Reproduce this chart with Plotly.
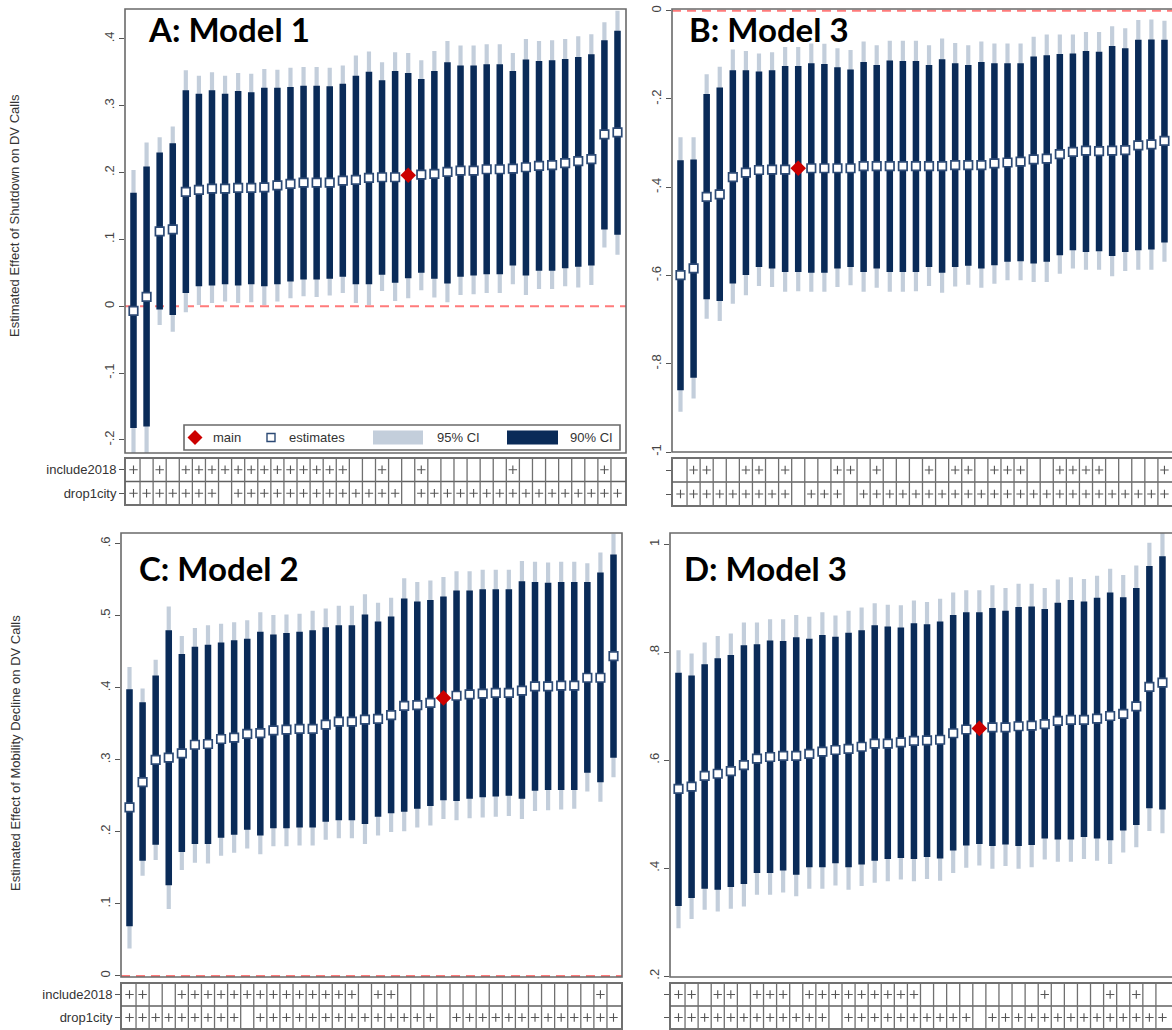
import plotly.graph_objects as go

# the page body margin is removed (post_script below), so the figure fills the window exactly
OFF = 0
W, H = 1172 - OFF, 1030 - OFF
N = 38
idx = list(range(1, N + 1))

# ---------------- DATA ----------------
# Panel A: Model 1 (Shutdown)
A_est = [-0.007, 0.014, 0.112, 0.115, 0.171, 0.174, 0.176, 0.176, 0.177, 0.177, 0.178, 0.181, 0.183, 0.185, 0.185, 0.185, 0.188, 0.189, 0.192, 0.193,
         0.193, 0.196, 0.197, 0.198, 0.201, 0.203, 0.203, 0.205, 0.205, 0.206, 0.208, 0.210, 0.211, 0.214, 0.217, 0.220, 0.257, 0.260]
A_hi95 = [0.204, 0.245, 0.253, 0.269, 0.353, 0.345, 0.350, 0.345, 0.349, 0.348, 0.355, 0.354, 0.357, 0.358, 0.358, 0.357, 0.360, 0.375, 0.381, 0.365,
          0.380, 0.379, 0.368, 0.382, 0.397, 0.390, 0.390, 0.392, 0.392, 0.379, 0.400, 0.397, 0.398, 0.400, 0.404, 0.407, 0.425, 0.442]
A_hi90 = [0.170, 0.209, 0.230, 0.244, 0.323, 0.318, 0.323, 0.318, 0.322, 0.320, 0.327, 0.327, 0.328, 0.330, 0.330, 0.329, 0.333, 0.345, 0.351, 0.338,
          0.352, 0.349, 0.340, 0.352, 0.365, 0.360, 0.360, 0.362, 0.362, 0.352, 0.369, 0.367, 0.368, 0.370, 0.373, 0.377, 0.398, 0.412]
A_lo90 = [-0.182, -0.180, -0.005, -0.013, 0.020, 0.030, 0.031, 0.033, 0.031, 0.033, 0.030, 0.033, 0.037, 0.040, 0.040, 0.041, 0.044, 0.033, 0.033, 0.047,
          0.035, 0.042, 0.050, 0.041, 0.034, 0.044, 0.046, 0.048, 0.048, 0.061, 0.046, 0.053, 0.053, 0.057, 0.059, 0.061, 0.115, 0.107]
A_lo95 = [-0.235, -0.235, -0.028, -0.038, -0.009, 0.002, 0.005, 0.007, 0.005, 0.006, 0.002, 0.007, 0.012, 0.015, 0.014, 0.016, 0.020, 0.005, 0.002, 0.023,
          0.008, 0.012, 0.024, 0.013, 0.006, 0.017, 0.018, 0.020, 0.020, 0.033, 0.017, 0.026, 0.026, 0.030, 0.028, 0.032, 0.088, 0.077]
A_main = 22
A_inc2018 = [1,0,1,0,1,1,1,1,1,1,1,1,1,1,1,1,1,0,0,1,0,0,1,0,0,0,0,0,0,1,0,0,0,0,0,0,1,0]
A_drop1city = [1,1,1,1,1,1,1,0,1,1,1,1,1,1,1,1,1,1,1,1,1,0,1,1,1,1,1,1,1,1,1,1,1,1,1,1,1,1]

# Panel B: Model 3 (Shutdown)
B_est = [-0.599, -0.584, -0.422, -0.416, -0.377, -0.367, -0.361, -0.360, -0.360, -0.357, -0.357, -0.357, -0.357, -0.357, -0.352, -0.352, -0.352, -0.352, -0.352, -0.352,
         -0.352, -0.350, -0.350, -0.350, -0.346, -0.344, -0.342, -0.337, -0.335, -0.325, -0.320, -0.317, -0.318, -0.317, -0.316, -0.305, -0.303, -0.295]
B_hi95 = [-0.287, -0.287, -0.144, -0.127, -0.088, -0.091, -0.097, -0.094, -0.082, -0.082, -0.074, -0.075, -0.085, -0.089, -0.070, -0.078, -0.068, -0.068, -0.068, -0.078,
          -0.063, -0.073, -0.078, -0.070, -0.074, -0.074, -0.074, -0.059, -0.054, -0.054, -0.054, -0.048, -0.048, -0.035, -0.040, -0.021, -0.020, -0.023]
B_hi90 = [-0.339, -0.337, -0.189, -0.174, -0.135, -0.135, -0.138, -0.135, -0.125, -0.125, -0.119, -0.121, -0.128, -0.133, -0.116, -0.123, -0.113, -0.114, -0.114, -0.123,
          -0.110, -0.119, -0.123, -0.116, -0.119, -0.119, -0.119, -0.104, -0.101, -0.098, -0.097, -0.091, -0.093, -0.080, -0.085, -0.066, -0.065, -0.066]
B_lo90 = [-0.860, -0.832, -0.654, -0.658, -0.618, -0.599, -0.581, -0.584, -0.592, -0.592, -0.594, -0.594, -0.584, -0.581, -0.592, -0.584, -0.592, -0.592, -0.592, -0.581,
          -0.594, -0.581, -0.578, -0.584, -0.577, -0.569, -0.568, -0.573, -0.569, -0.554, -0.543, -0.547, -0.545, -0.556, -0.547, -0.543, -0.541, -0.525]
B_lo95 = [-0.909, -0.879, -0.698, -0.703, -0.664, -0.645, -0.624, -0.626, -0.637, -0.636, -0.637, -0.637, -0.626, -0.622, -0.637, -0.628, -0.637, -0.637, -0.636, -0.624,
          -0.639, -0.625, -0.621, -0.628, -0.619, -0.611, -0.611, -0.615, -0.615, -0.596, -0.584, -0.587, -0.587, -0.602, -0.590, -0.587, -0.587, -0.569]
B_main = 10
B_inc2018 = [0,1,1,0,0,1,1,0,1,0,0,0,1,1,0,1,0,0,0,1,0,1,1,0,1,1,1,0,0,1,1,1,1,0,0,0,0,1]
B_drop1city = [1,1,1,1,1,1,1,1,1,0,1,1,1,0,1,1,1,1,1,1,1,1,1,1,1,1,1,1,1,1,1,1,1,1,1,1,1,1]

# Panel C: Model 2 (Mobility decline)
C_est = [0.234, 0.269, 0.300, 0.303, 0.309, 0.321, 0.322, 0.329, 0.331, 0.336, 0.337, 0.341, 0.342, 0.343, 0.343, 0.349, 0.353, 0.353, 0.356, 0.357,
         0.362, 0.375, 0.376, 0.379, 0.386, 0.389, 0.391, 0.392, 0.393, 0.393, 0.396, 0.402, 0.402, 0.403, 0.403, 0.414, 0.414, 0.444]
C_hi95 = [0.429, 0.399, 0.439, 0.513, 0.472, 0.483, 0.487, 0.489, 0.491, 0.494, 0.505, 0.501, 0.502, 0.503, 0.507, 0.510, 0.514, 0.514, 0.530, 0.518,
          0.525, 0.552, 0.547, 0.549, 0.554, 0.562, 0.562, 0.564, 0.564, 0.564, 0.576, 0.575, 0.574, 0.575, 0.575, 0.573, 0.588, 0.614]
C_hi90 = [0.398, 0.380, 0.417, 0.480, 0.447, 0.457, 0.460, 0.463, 0.466, 0.468, 0.478, 0.474, 0.476, 0.478, 0.480, 0.484, 0.487, 0.487, 0.502, 0.492,
          0.499, 0.524, 0.520, 0.522, 0.527, 0.535, 0.535, 0.537, 0.537, 0.537, 0.548, 0.547, 0.546, 0.547, 0.547, 0.547, 0.560, 0.585]
C_lo90 = [0.069, 0.160, 0.182, 0.126, 0.172, 0.183, 0.183, 0.192, 0.196, 0.203, 0.195, 0.205, 0.205, 0.206, 0.206, 0.214, 0.216, 0.216, 0.211, 0.221,
          0.226, 0.228, 0.232, 0.236, 0.244, 0.243, 0.246, 0.248, 0.249, 0.250, 0.246, 0.257, 0.258, 0.258, 0.258, 0.282, 0.269, 0.303]
C_lo95 = [0.038, 0.139, 0.161, 0.093, 0.147, 0.157, 0.156, 0.167, 0.171, 0.177, 0.169, 0.180, 0.180, 0.181, 0.181, 0.189, 0.191, 0.191, 0.183, 0.195,
          0.200, 0.201, 0.206, 0.209, 0.218, 0.216, 0.219, 0.220, 0.221, 0.222, 0.218, 0.229, 0.230, 0.231, 0.232, 0.256, 0.242, 0.276]
C_main = 25
C_inc2018 = [1,1,0,0,1,1,1,1,1,1,1,1,1,1,1,1,1,1,0,1,1,0,0,0,0,0,0,0,0,0,0,0,0,0,0,0,1,0]
C_drop1city = [1,1,1,1,1,1,1,1,1,0,1,1,1,1,1,1,1,1,1,1,1,1,1,1,0,1,1,1,1,1,1,1,1,1,1,1,1,1]

# Panel D: Model 3 (Mobility decline)
D_est = [0.547, 0.551, 0.571, 0.575, 0.580, 0.591, 0.603, 0.606, 0.608, 0.608, 0.612, 0.616, 0.619, 0.621, 0.625, 0.631, 0.631, 0.633, 0.636, 0.637,
         0.638, 0.650, 0.657, 0.659, 0.661, 0.661, 0.663, 0.664, 0.667, 0.673, 0.675, 0.675, 0.677, 0.682, 0.686, 0.700, 0.736, 0.744]
D_hi95 = [0.804, 0.798, 0.818, 0.830, 0.835, 0.855, 0.855, 0.861, 0.861, 0.869, 0.866, 0.874, 0.868, 0.877, 0.883, 0.891, 0.888, 0.887, 0.896, 0.893,
          0.899, 0.911, 0.915, 0.915, 0.924, 0.919, 0.927, 0.927, 0.919, 0.935, 0.939, 0.936, 0.942, 0.955, 0.943, 0.961, 1.003, 1.022]
D_hi90 = [0.762, 0.757, 0.778, 0.789, 0.795, 0.813, 0.815, 0.822, 0.821, 0.828, 0.825, 0.832, 0.829, 0.836, 0.841, 0.850, 0.848, 0.846, 0.854, 0.852,
          0.857, 0.869, 0.874, 0.874, 0.882, 0.877, 0.884, 0.885, 0.880, 0.892, 0.897, 0.894, 0.901, 0.911, 0.902, 0.919, 0.960, 0.978]
D_lo90 = [0.330, 0.345, 0.362, 0.360, 0.365, 0.371, 0.391, 0.391, 0.396, 0.388, 0.402, 0.402, 0.409, 0.402, 0.407, 0.414, 0.417, 0.419, 0.417, 0.421,
          0.418, 0.433, 0.442, 0.445, 0.441, 0.444, 0.441, 0.443, 0.455, 0.453, 0.453, 0.458, 0.455, 0.452, 0.470, 0.480, 0.511, 0.509]
D_lo95 = [0.289, 0.306, 0.323, 0.320, 0.325, 0.329, 0.351, 0.351, 0.355, 0.348, 0.362, 0.362, 0.368, 0.360, 0.367, 0.373, 0.376, 0.379, 0.376, 0.380,
          0.377, 0.391, 0.401, 0.405, 0.399, 0.404, 0.399, 0.402, 0.416, 0.412, 0.412, 0.417, 0.414, 0.408, 0.429, 0.439, 0.469, 0.465]
D_main = 24
D_inc2018 = [1,1,0,1,1,0,1,1,1,0,1,1,1,1,1,1,1,1,1,0,0,0,0,0,0,0,0,0,1,0,0,0,0,1,0,1,0,0]
D_drop1city = [1,1,1,1,1,1,1,1,1,1,1,1,0,1,1,1,1,1,1,1,1,1,1,0,1,1,1,1,1,1,1,1,1,1,1,1,1,1]

A_yticks = [-0.2, -0.1, 0, 0.1, 0.2, 0.3, 0.4]
A_ytext = ['-.2', '-.1', '0', '.1', '.2', '.3', '.4']
B_yticks = [-1, -0.8, -0.6, -0.4, -0.2, 0]
B_ytext = ['-1', '-.8', '-.6', '-.4', '-.2', '0']
C_yticks = [0, 0.1, 0.2, 0.3, 0.4, 0.5, 0.6]
C_ytext = ['0', '.1', '.2', '.3', '.4', '.5', '.6']
D_yticks = [0.2, 0.4, 0.6, 0.8, 1.0]
D_ytext = ['.2', '.4', '.6', '.8', '1']

row_labels = ['include2018', 'drop1city']
legend_labels = ['main', 'estimates', '95% CI', '90% CI']
ytitle_top = 'Estimated Effect of Shutdown on DV Calls'
ytitle_bottom = 'Estimated Effect of Mobility Decline on DV Calls'

# ---------------- STYLE / LAYOUT ----------------
NAVY = '#0a2b58'
LIGHT = '#c3cedb'
RED = '#cc0000'
ZERO = '#ff7b7b'
FRAME = '#6a6a6a'
FONT = 'Liberation Sans, Arial, sans-serif'

def fx(p):
    return (p - OFF) / W

def fy(p):
    return 1 - (p - OFF) / H

panels = [
    dict(est=A_est, lo95=A_lo95, hi95=A_hi95, lo90=A_lo90, hi90=A_hi90, main=A_main,
         inc=A_inc2018, drop=A_drop1city, yt=A_yticks, ytt=A_ytext, title='A: Model 1',
         box=(125, 626, 9, 453), tbox=(458, 505), xr=(0.35, 38.65), yr=(-0.2195, 0.4447),
         tpos=(146, 29), zero=True, labels=True, rightframe=True),
    dict(est=B_est, lo95=B_lo95, hi95=B_hi95, lo90=B_lo90, hi90=B_hi90, main=B_main,
         inc=B_inc2018, drop=B_drop1city, yt=B_yticks, ytt=B_ytext, title='B: Model 3',
         box=(672, 1172, 9, 452), tbox=(458, 506), xr=(0.35, 0.35 + 500 / 13.08), yr=(-1.0, 0.0039),
         tpos=(687, 29), zero=True, labels=False, rightframe=False),
    dict(est=C_est, lo95=C_lo95, hi95=C_hi95, lo90=C_lo90, hi90=C_hi90, main=C_main,
         inc=C_inc2018, drop=C_drop1city, yt=C_yticks, ytt=C_ytext, title='C: Model 2',
         box=(121, 622, 533, 977), tbox=(983, 1029), xr=(0.35, 38.65), yr=(-0.0015, 0.615),
         tpos=(137, 568), zero=True, labels=True, rightframe=True),
    dict(est=D_est, lo95=D_lo95, hi95=D_hi95, lo90=D_lo90, hi90=D_hi90, main=D_main,
         inc=D_inc2018, drop=D_drop1city, yt=D_yticks, ytt=D_ytext, title='D: Model 3',
         box=(670, 1172, 533, 977), tbox=(983, 1029), xr=(0.35, 0.35 + 502 / 13.08), yr=(0.1985, 1.021),
         tpos=(682, 568), zero=False, labels=False, rightframe=False),
]

fig = go.Figure()
layout = dict(width=W, height=H, margin=dict(l=0, r=0, t=0, b=0), paper_bgcolor='white',
              plot_bgcolor='rgba(0,0,0,0)', showlegend=False, barmode='overlay')
shapes = []
annotations = []

for i, p in enumerate(panels):
    xa = 2 * i + 1
    xt = 2 * i + 2
    xn, yn = ('x' if xa == 1 else f'x{xa}'), ('y' if xa == 1 else f'y{xa}')
    xtn, ytn = f'x{xt}', f'y{xt}'
    x0, x1, y0, y1 = p['box']
    ty0, ty1 = p['tbox']

    # CI bars via base
    fig.add_trace(go.Bar(x=idx, y=[h - l for h, l in zip(p['hi95'], p['lo95'])], base=p['lo95'],
                         width=0.32, marker=dict(color=LIGHT, line=dict(width=0)),
                         xaxis=xn, yaxis=yn, hoverinfo='skip'))
    fig.add_trace(go.Bar(x=idx, y=[h - l for h, l in zip(p['hi90'], p['lo90'])], base=p['lo90'],
                         width=0.5, marker=dict(color=NAVY, line=dict(width=0)),
                         xaxis=xn, yaxis=yn, hoverinfo='skip'))
    sx = [k for k in idx if k != p['main']]
    sy = [p['est'][k - 1] for k in sx]
    fig.add_trace(go.Scatter(x=sx, y=sy, mode='markers', xaxis=xn, yaxis=yn,
                             marker=dict(symbol='square', size=8.5, color='white',
                                         line=dict(color='#2c4a75', width=1.7)), hoverinfo='skip'))
    fig.add_trace(go.Scatter(x=[p['main']], y=[p['est'][p['main'] - 1]], mode='markers', xaxis=xn, yaxis=yn,
                             marker=dict(symbol='diamond', size=12, color=RED, line=dict(width=0)),
                             hoverinfo='skip'))
    # table plus signs
    for row_y, flags in ((1.5, p['inc']), (0.5, p['drop'])):
        px_ = [k for k, f in zip(idx, flags) if f]
        fig.add_trace(go.Scatter(x=px_, y=[row_y] * len(px_), mode='markers', xaxis=xtn, yaxis=ytn,
                                 marker=dict(symbol='cross-thin', size=6,
                                             line=dict(color='#555555', width=1.1)), hoverinfo='skip'))

    xdom = [max(0.0, fx(x0)), min(1.0, fx(x1))]
    layout['xaxis' if xa == 1 else f'xaxis{xa}'] = dict(domain=xdom, range=list(p['xr']), anchor=yn,
                                                        showticklabels=False, ticks='', showgrid=False,
                                                        zeroline=False, showline=False, fixedrange=True)
    layout['yaxis' if xa == 1 else f'yaxis{xa}'] = dict(domain=[fy(y1), min(1.0, fy(y0))], range=list(p['yr']), anchor=xn,
                                                        tickvals=p['yt'], ticktext=p['ytt'], tickangle=-90,
                                                        ticks='outside', ticklen=5, tickwidth=1, tickcolor='#555555',
                                                        tickfont=dict(family=FONT, size=13, color='#444444'),
                                                        ticklabeloverflow='allow',
                                                        showgrid=False, zeroline=False, showline=False,
                                                        automargin=False, fixedrange=True)
    layout[f'xaxis{xt}'] = dict(domain=xdom, range=list(p['xr']), anchor=ytn, matches=xn,
                                showticklabels=False, ticks='', showgrid=False, zeroline=False,
                                showline=False, fixedrange=True)
    layout[f'yaxis{xt}'] = dict(domain=[max(0.0, fy(ty1)), fy(ty0)], range=[0, 2], anchor=xtn,
                                tickvals=[1.5, 0.5],
                                ticktext=row_labels if p['labels'] else ['', ''],
                                ticks='outside', ticklen=5, tickwidth=1, tickcolor='#555555',
                                tickfont=dict(family=FONT, size=13, color='#333333'),
                                ticklabeloverflow='allow',
                                showgrid=False, zeroline=False, showline=False,
                                automargin=False, fixedrange=True)

    # zero line
    if p['zero']:
        shapes.append(dict(type='line', xref=f'{xn} domain', x0=0, x1=1, yref=yn, y0=0, y1=0,
                           line=dict(color=ZERO, width=2, dash='9px,6px'), layer='below'))
    # plot frame
    xr_edge = x1 if p['rightframe'] else x1 + 6
    shapes.append(dict(type='rect', xref='paper', yref='paper', x0=fx(x0), x1=fx(xr_edge),
                       y0=fy(y1), y1=fy(y0), line=dict(color=FRAME, width=1.6), layer='above'))
    # table frame and grid
    shapes.append(dict(type='rect', xref='paper', yref='paper', x0=fx(x0), x1=fx(xr_edge),
                       y0=fy(ty1), y1=fy(ty0), line=dict(color='#707070', width=2), layer='above'))
    shapes.append(dict(type='line', xref=f'{xtn} domain', x0=0, x1=1, yref=ytn, y0=1, y1=1,
                       line=dict(color='#606060', width=1.5), layer='above'))
    for k in idx[:-1]:
        shapes.append(dict(type='line', xref=xtn, x0=k + 0.5, x1=k + 0.5, yref=f'{ytn} domain', y0=0, y1=1,
                           line=dict(color='#707070', width=1.3), layer='above'))
    # panel title
    annotations.append(dict(text=f"<b>{p['title']}</b>", xref='paper', yref='paper',
                            x=fx(p['tpos'][0]), y=fy(p['tpos'][1]), xanchor='left', yanchor='middle',
                            showarrow=False, font=dict(family='Lato, Open Sans, sans-serif', size=33,
                                                       color='#000000')))

# y-axis titles
annotations.append(dict(text=ytitle_top, xref='paper', yref='paper', x=fx(15), y=fy(216),
                        textangle=-90, showarrow=False, xanchor='center', yanchor='middle',
                        font=dict(family=FONT, size=13, color='#333333')))
annotations.append(dict(text=ytitle_bottom, xref='paper', yref='paper', x=fx(15), y=fy(753),
                        textangle=-90, showarrow=False, xanchor='center', yanchor='middle',
                        font=dict(family=FONT, size=13, color='#333333')))

# legend inside panel A
ly = 437.5
shapes.append(dict(type='rect', xref='paper', yref='paper', x0=fx(184), x1=fx(620), y0=fy(450), y1=fy(425),
                   line=dict(color='#6a6a6a', width=1.6), fillcolor='white', layer='above'))
dpath = (f"M {fx(187.5)},{fy(ly)} L {fx(195)},{fy(ly - 7.5)} L {fx(202.5)},{fy(ly)} "
         f"L {fx(195)},{fy(ly + 7.5)} Z")
shapes.append(dict(type='path', xref='paper', yref='paper', path=dpath, fillcolor=RED,
                   line=dict(width=0), layer='above'))
shapes.append(dict(type='rect', xref='paper', yref='paper', x0=fx(267), x1=fx(275), y0=fy(ly + 4),
                   y1=fy(ly - 4), fillcolor='white', line=dict(color='#2c4a75', width=1.4), layer='above'))
shapes.append(dict(type='rect', xref='paper', yref='paper', x0=fx(373), x1=fx(423), y0=fy(ly + 7),
                   y1=fy(ly - 7), fillcolor=LIGHT, line=dict(width=0), layer='above'))
shapes.append(dict(type='rect', xref='paper', yref='paper', x0=fx(507), x1=fx(558), y0=fy(ly + 7),
                   y1=fy(ly - 7), fillcolor=NAVY, line=dict(width=0), layer='above'))
for txt, xpos in zip(legend_labels, (211, 287, 435, 568)):
    annotations.append(dict(text=txt, xref='paper', yref='paper', x=fx(xpos), y=fy(ly), xanchor='left',
                            yanchor='middle', showarrow=False,
                            font=dict(family=FONT, size=13, color='#333333')))

layout['shapes'] = shapes
layout['annotations'] = annotations
fig.update_layout(**layout)
fig.write_html('out.html',
               config={'displayModeBar': False, 'staticPlot': True},
               post_script="document.body.style.margin='0';document.body.style.overflow='hidden';")
